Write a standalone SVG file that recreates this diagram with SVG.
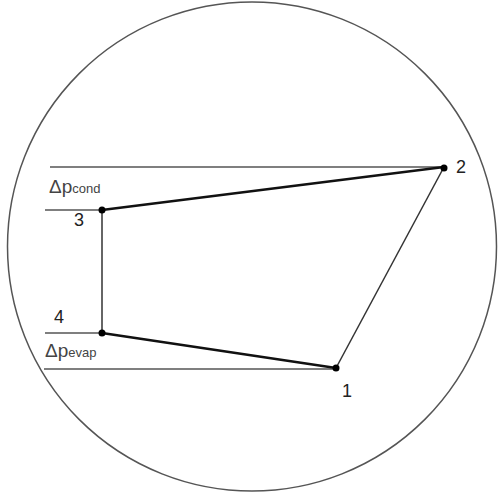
<svg xmlns="http://www.w3.org/2000/svg" width="501" height="493" viewBox="0 0 501 493">
<style>
.ref{stroke:#555;stroke-width:1.5;fill:none}
.thin{stroke:#333;stroke-width:1.5;fill:none}
.thick{stroke:#111;stroke-width:2.5;fill:none}
.lbl{font-family:"Liberation Sans",Arial,sans-serif;font-size:18px;fill:#222}
.dp{font-family:"Liberation Sans",Arial,sans-serif;font-size:19px;fill:#444}
.sub{font-size:13px}
.dot{fill:#000}
</style>
<rect width="501" height="493" fill="#fff"/>
<circle cx="252" cy="246.5" r="244.5" fill="none" stroke="#555" stroke-width="1.5"/>
<g id="connectors">
<line class="ref" x1="50" y1="167" x2="444" y2="167"/>
<line class="ref" x1="45" y1="210" x2="102" y2="210"/>
<line class="ref" x1="45" y1="333" x2="102" y2="333"/>
<line class="ref" x1="44" y1="369" x2="336" y2="369"/>
<line class="thick" x1="102" y1="210" x2="444" y2="167"/>
<line class="thick" x1="102" y1="333" x2="336" y2="368"/>
<line class="thin" x1="444" y1="167" x2="336" y2="368"/>
<line class="thin" x1="102" y1="210" x2="102" y2="333"/>
</g>
<g id="node1"><circle class="dot" cx="336" cy="368" r="3.5"/><text class="lbl" x="342" y="397">1</text></g>
<g id="node2"><circle class="dot" cx="444" cy="168" r="3.5"/><text class="lbl" x="456" y="173">2</text></g>
<g id="node3"><circle class="dot" cx="102" cy="210" r="3.5"/><text class="lbl" x="74" y="226">3</text></g>
<g id="node4"><circle class="dot" cx="102" cy="333" r="3.5"/><text class="lbl" x="54" y="323">4</text></g>
<g id="dpcond"><text class="dp" x="49" y="193">Δp<tspan class="sub">cond</tspan></text></g>
<g id="dpevap"><text class="dp" x="45" y="357">Δp<tspan class="sub">evap</tspan></text></g>
</svg>
